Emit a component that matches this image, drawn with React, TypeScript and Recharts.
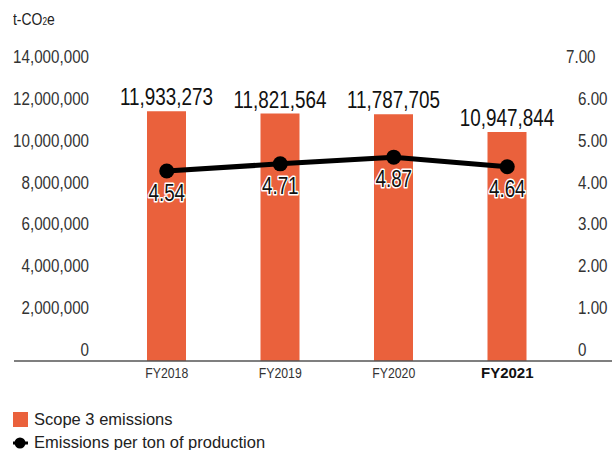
import React from "react";
import {
  ComposedChart,
  Bar,
  Line,
  XAxis,
  YAxis,
  Legend,
  LabelList,
} from "recharts";

const years = ["FY2018", "FY2019", "FY2020", "FY2021"];
const scope3 = [11933273, 11821564, 11787705, 10947844];
const perTon = [4.54, 4.71, 4.87, 4.64];
const leftTicks = [0, 2000000, 4000000, 6000000, 8000000, 10000000, 12000000, 14000000];
const rightTicks = [0, 1, 2, 3, 4, 5, 6, 7];

const data = years.map((year, i) => ({
  year,
  scope3: scope3[i],
  perTon: perTon[i],
}));

const ORANGE = "#EA613C";
const SANS = "'Liberation Sans', Arial, sans-serif";
const SQUEEZE = 0.82; // condensed look for the number labels

const fmtInt = (v: number) => (v === 0 ? "0" : v.toLocaleString("en-US"));
const fmtDec = (v: number) => (v === 0 ? "0" : v.toFixed(2));

// svg text squeezed horizontally around its anchor point
const NarrowText = ({ x, y, children, ...rest }: any) => (
  <g transform={`translate(${x},${y}) scale(${SQUEEZE},1)`}>
    <text x={0} y={0} fontFamily={SANS} {...rest}>
      {children}
    </text>
  </g>
);

const LeftTick = (props: any) => {
  const { x, y, payload } = props;
  return (
    <NarrowText x={x + 75} y={y - 5} textAnchor="end" fontSize={18.5} fill="#333">
      {fmtInt(payload.value)}
    </NarrowText>
  );
};

const RightTick = (props: any) => {
  const { x, y, payload } = props;
  const shift = payload.value === 7 ? -12 : 0;
  return (
    <NarrowText x={x - 34 + shift} y={y - 5} textAnchor="start" fontSize={18.5} fill="#333">
      {fmtDec(payload.value)}
    </NarrowText>
  );
};

const YearTick = (props: any) => {
  const { x, y, payload } = props;
  const current = payload.value === years[years.length - 1];
  if (current) {
    return (
      <text x={x} y={y + 17} textAnchor="middle" fontSize={15} fontWeight="bold" fill="#111" fontFamily={SANS}>
        {payload.value}
      </text>
    );
  }
  return (
    <NarrowText x={x} y={y + 17} textAnchor="middle" fontSize={15} fill="#333">
      {payload.value}
    </NarrowText>
  );
};

const BarValue = (props: any) => {
  const { x, y, width, value } = props;
  return (
    <NarrowText x={x + width / 2} y={y - 6} textAnchor="middle" fontSize={23} fill="#111">
      {fmtInt(value)}
    </NarrowText>
  );
};

const PointValue = (props: any) => {
  const { x, y, value } = props;
  return (
    <NarrowText
      x={x}
      y={y + 30}
      textAnchor="middle"
      fontSize={23}
      fill="#111"
      stroke="#fff"
      strokeWidth={3}
      paintOrder="stroke"
      strokeLinejoin="round"
    >
      {value.toFixed(2)}
    </NarrowText>
  );
};

const LegendBox = () => (
  <div style={{ fontFamily: SANS, fontSize: 16.5, color: "#222", lineHeight: "23px" }}>
    <div style={{ display: "flex", alignItems: "center" }}>
      <span style={{ width: 15, height: 15, background: ORANGE, marginRight: 6 }} />
      Scope 3 emissions
    </div>
    <div style={{ display: "flex", alignItems: "center" }}>
      <svg width={15} height={12} style={{ marginRight: 6 }}>
        <line x1={0} y1={6} x2={15} y2={6} stroke="#000" strokeWidth={3} />
        <circle cx={7} cy={6} r={5.5} fill="#000" />
      </svg>
      Emissions per ton of production
    </div>
  </div>
);

export default function App() {
  return (
    <div style={{ position: "relative", width: 613, height: 450, background: "#fff" }}>
      <style>{`body{margin:0}`}</style>
      <div
        style={{
          position: "absolute",
          left: 13,
          top: 10,
          fontFamily: SANS,
          fontSize: 17,
          color: "#222",
          transform: `scaleX(${SQUEEZE})`,
          transformOrigin: "left top",
        }}
      >
        t-CO<span style={{ fontSize: 10 }}>2</span>e
      </div>
      <ComposedChart
        width={613}
        height={450}
        data={data}
        margin={{ top: 68, right: 0, bottom: 59, left: 0 }}
      >
        <XAxis
          dataKey="year"
          height={30}
          padding={{ left: 96, right: 48 }}
          axisLine={{ stroke: "#555", strokeWidth: 1.5 }}
          tickLine={false}
          tickSize={0}
          tickMargin={0}
          tick={<YearTick />}
          interval={0}
        />
        <YAxis
          yAxisId="left"
          orientation="left"
          width={14}
          domain={[0, 14000000]}
          ticks={leftTicks}
          axisLine={false}
          tickLine={false}
          tickSize={0}
          tickMargin={0}
          tick={<LeftTick />}
          interval={0}
        />
        <YAxis
          yAxisId="right"
          orientation="right"
          width={1}
          domain={[0, 7]}
          ticks={rightTicks}
          axisLine={false}
          tickLine={false}
          tickSize={0}
          tickMargin={0}
          tick={<RightTick />}
          interval={0}
        />
        <Legend
          layout="horizontal"
          verticalAlign="middle"
          align="center"
          wrapperStyle={{ top: 408, left: 13, width: 400 }}
          content={<LegendBox />}
        />
        <Bar
          yAxisId="left"
          dataKey="scope3"
          name="Scope 3 emissions"
          fill={ORANGE}
          barSize={39}
          isAnimationActive={false}
        >
          <LabelList dataKey="scope3" content={<BarValue />} />
        </Bar>
        <Line
          yAxisId="right"
          dataKey="perTon"
          name="Emissions per ton of production"
          type="linear"
          stroke="#000"
          strokeWidth={5}
          dot={{ r: 7.5, fill: "#000", stroke: "#000", strokeWidth: 0 }}
          activeDot={false}
          isAnimationActive={false}
        >
          <LabelList dataKey="perTon" content={<PointValue />} />
        </Line>
      </ComposedChart>
    </div>
  );
}
